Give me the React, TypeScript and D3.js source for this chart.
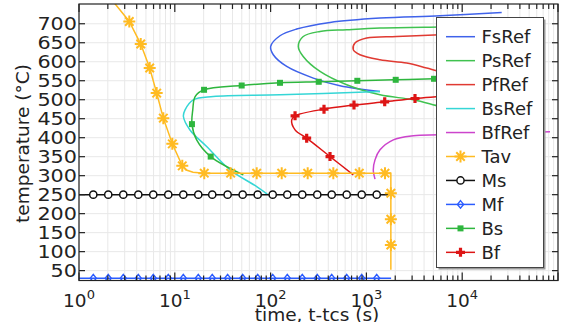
import React from 'react';
import * as d3 from 'd3';

// ---------- data (time s, temperature °C) ----------
const fsRef: [number, number][] = [
  [25840, 729.8], [5866, 721.1], [1387, 715], [417, 703.4], [187, 686], [125.3, 668.4],
  [100.2, 640.2], [106.7, 618.3], [147.3, 587.5], [279, 556.9], [530, 536.6], [1387, 521.6],
];
const psRef: [number, number][] = [
  [9480, 692.1], [5866, 691.3], [1387, 688.7], [623, 684.2], [328, 679.7], [219, 666.5],
  [194.5, 640.2], [219, 613.8], [328, 574.3], [623, 539.3], [1387, 512.9], [3090, 499.7],
  [5866, 482.1], [9480, 470.8],
];
const pfRef: [number, number][] = [
  [9480, 673.6], [5866, 671], [2070, 666.5], [1007, 662.3], [760, 649.1], [730, 631.5],
  [857, 618.3], [1387, 605.1], [2634, 596.4], [4256, 583.3], [5866, 574.3], [9480, 563],
];
const bsRef: [number, number][] = [
  [1387, 521.6], [125.3, 512.9], [25.2, 508.4], [15.6, 499.7], [12.8, 473.4], [12.3, 455.7],
  [14.4, 420.4], [21.5, 376.7], [37.7, 315.3], [71.6, 271.3], [92.4, 251.3],
];
const bfRef: [number, number][] = [
  [82500, 415.4], [5866, 407.5], [3090, 404.9], [1910, 394.3], [1387, 368], [1230, 341.6],
  [1180, 315.3], [1230, 290.8],
];
const tavLine: [number, number][] = [
  [2.2, 762], [2.375, 752.7], [3.35, 706], [4.41, 646.5], [5.47, 583.3], [6.47, 517.4],
  [7.59, 451.5], [9.42, 383.8], [11.97, 325.8], [13.2, 315], [15.5, 309], [20.3, 306.6],
  [1800, 306.6], [1800, 52],
];
const tavMarks: [number, number][] = [
  [3.35, 706], [4.41, 646.5], [5.47, 583.3], [6.47, 517.4], [7.59, 451.5], [9.42, 383.8],
  [11.97, 325.8], [20.3, 306.6], [38.3, 306.6], [71.6, 306.6], [130.6, 306.6], [243.9, 306.6],
  [451.5, 306.6], [843, 306.6], [1563, 306.6], [1800, 253.9], [1800, 185.4], [1800, 117.6],
];
const msValue = 250;
const mfValue = 30;
const msLineT = [1, 1800];
const mfLineT = [1, 1810];
const mMarkT = [1.41, 2.02, 2.9, 4.16, 5.96, 8.55, 12.27, 17.59, 24.6, 35.6, 51.1, 73.3,
  105.2, 149.4, 214.2, 307, 434.5, 622.8, 893.6, 1281];
const bsLine: [number, number][] = [
  [9480, 556.4], [5080, 555.1], [2023, 552.4], [804, 549.8], [318, 547.2], [125.3, 544.5],
  [49.9, 537.4], [20.2, 526.1], [16.3, 508.4], [15.4, 473.4], [15.1, 435.7], [16.9, 394.3],
  [23.7, 350.3], [51.9, 302.1],
];
const bsMarks: [number, number][] = [
  [5080, 555.1], [2023, 552.4], [804, 549.8], [318, 547.2], [125.3, 544.5], [49.9, 537.4],
  [20.2, 526.1], [15.1, 435.7], [23.7, 350.3],
];
const bfLine: [number, number][] = [
  [9480, 512.9], [5866, 508.4], [3216, 503.2], [1553, 494.5], [742, 485.8], [361, 475.2],
  [180, 457.5], [166, 447], [180, 420.7], [238, 398.8], [417, 350.3], [730, 302.1],
];
const bfMarks: [number, number][] = [
  [3216, 503.2], [1553, 494.5], [742, 485.8], [361, 475.2], [180, 457.5], [238, 398.8],
  [417, 350.3],
];
const yTicks = [50, 100, 150, 200, 250, 300, 350, 400, 450, 500, 550, 600, 650, 700];
const xMajor = [1, 10, 100, 1000, 10000, 100000];
const xExp = ['0', '1', '2', '3', '4', '5'];
const legendNames = ['FsRef', 'PsRef', 'PfRef', 'BsRef', 'BfRef', 'Tav', 'Ms', 'Mf', 'Bs', 'Bf'];

// ---------- styles ----------
const C = {
  fs: '#3f62ea', ps: '#40c250', pf: '#e03a32', bs: '#35d6d6', bf: '#cc44cc',
  tav: '#ffbb22', ms: '#111111', mf: '#2b5cff', bsM: '#2eb63e', bfM: '#dd1515',
};
const legendColors = [C.fs, C.ps, C.pf, C.bs, C.bf, C.tav, C.ms, C.mf, C.bsM, C.bfM];
const legendMarkers = ['', '', '', '', '', 'star', 'circle', 'diamond', 'square', 'plus'];

const FONT = 'DejaVu Sans, sans-serif';
const X0 = 79, X1 = 558, Y0 = 4, Y1 = 280.5;

const x = d3.scaleLog().domain([1, 100000]).range([X0, X1]);
const y = d3.scaleLinear().domain([24, 752]).range([Y1, Y0]);

const lineGen = d3.line<[number, number]>().x(d => x(d[0])).y(d => y(d[1]));
const smoothGen = d3.line<[number, number]>().x(d => x(d[0])).y(d => y(d[1])).curve(d3.curveCatmullRom.alpha(0.5));

function Marker({ type, cx, cy, color }: { type: string; cx: number; cy: number; color: string }) {
  if (type === 'star') {
    const r = 6;
    const arms = [0, 45, 90, 135].map(a => {
      const rad = (a * Math.PI) / 180;
      return `M${cx - r * Math.cos(rad)},${cy - r * Math.sin(rad)}L${cx + r * Math.cos(rad)},${cy + r * Math.sin(rad)}`;
    }).join('');
    return <path d={arms} stroke={color} strokeWidth={2} fill="none" />;
  }
  if (type === 'circle') return <circle cx={cx} cy={cy} r={3.6} fill="white" stroke={color} strokeWidth={1.5} />;
  if (type === 'diamond') {
    const r = 3.8;
    return <path d={`M${cx},${cy - r}L${cx + r * 0.8},${cy}L${cx},${cy + r}L${cx - r * 0.8},${cy}Z`} fill="none" stroke={color} strokeWidth={1.4} />;
  }
  if (type === 'square') return <rect x={cx - 3} y={cy - 3} width={6} height={6} fill={color} />;
  if (type === 'plus') {
    const r = 4.5;
    return <path d={`M${cx - r},${cy}L${cx + r},${cy}M${cx},${cy - r}L${cx},${cy + r}`} stroke={color} strokeWidth={3.2} fill="none" />;
  }
  return null;
}

export default function App() {
  const minor: number[] = [];
  for (let k = 0; k < 5; k++) for (let m = 2; m <= 9; m++) minor.push(m * Math.pow(10, k));
  const allX = [...xMajor, ...minor];

  const lx0 = 446, lx1 = 475, ltx = 481.5, ly0 = 36.7, ldy = 23.96;

  return (
    <svg width={564} height={322} style={{ position: 'absolute', left: 0, top: 0, background: 'white' }} fontFamily={FONT}>
      <defs>
        <clipPath id="plot"><rect x={X0} y={Y0} width={X1 - X0} height={Y1 - Y0} /></clipPath>
      </defs>
      <rect x={0} y={0} width={564} height={322} fill="white" />
      {/* grid */}
      <g stroke="#e8e8e8" strokeWidth={1}>
        {allX.map((v, i) => <line key={'gx' + i} x1={x(v)} x2={x(v)} y1={Y0} y2={Y1} />)}
        {yTicks.map((v, i) => <line key={'gy' + i} x1={X0} x2={X1} y1={y(v)} y2={y(v)} />)}
      </g>
      <g clipPath="url(#plot)" fill="none">
        <path d={smoothGen(fsRef) || ''} stroke={C.fs} strokeWidth={1.5} />
        <path d={smoothGen(psRef) || ''} stroke={C.ps} strokeWidth={1.5} />
        <path d={smoothGen(pfRef) || ''} stroke={C.pf} strokeWidth={1.5} />
        <path d={smoothGen(bsRef) || ''} stroke={C.bs} strokeWidth={1.5} />
        <path d={smoothGen(bfRef) || ''} stroke={C.bf} strokeWidth={1.5} />
        <path d={lineGen(msLineT.map(t => [t, msValue] as [number, number])) || ''} stroke={C.ms} strokeWidth={1.5} />
        <path d={lineGen(mfLineT.map(t => [t, mfValue] as [number, number])) || ''} stroke={C.mf} strokeWidth={1.5} />
        <path d={smoothGen(bsLine) || ''} stroke={C.bsM} strokeWidth={1.5} />
        <path d={smoothGen(bfLine) || ''} stroke={C.bfM} strokeWidth={1.5} />
        <path d={lineGen(tavLine) || ''} stroke={C.tav} strokeWidth={1.5} />
        {mMarkT.map((t, i) => <Marker key={'ms' + i} type="circle" cx={x(t)} cy={y(msValue)} color={C.ms} />)}
        {mMarkT.map((t, i) => <Marker key={'mf' + i} type="diamond" cx={x(t)} cy={y(mfValue)} color={C.mf} />)}
        {bsMarks.map((d, i) => <Marker key={'bs' + i} type="square" cx={x(d[0])} cy={y(d[1])} color={C.bsM} />)}
        {bfMarks.map((d, i) => <Marker key={'bf' + i} type="plus" cx={x(d[0])} cy={y(d[1])} color={C.bfM} />)}
        {tavMarks.map((d, i) => <Marker key={'tv' + i} type="star" cx={x(d[0])} cy={y(d[1])} color={C.tav} />)}
      </g>
      {/* frame & ticks */}
      <rect x={X0} y={Y0} width={X1 - X0} height={Y1 - Y0} fill="none" stroke="#222" strokeWidth={1.2} />
      <g stroke="#222" strokeWidth={1.2}>
        {allX.map((v, i) => {
          const len = xMajor.includes(v) ? 8 : 5;
          return (
            <g key={'tx' + i}>
              <line x1={x(v)} x2={x(v)} y1={Y1} y2={Y1 - len} />
              <line x1={x(v)} x2={x(v)} y1={Y0} y2={Y0 + len} />
            </g>
          );
        })}
        {yTicks.map((v, i) => (
          <g key={'ty' + i}>
            <line x1={X0} x2={X0 + 6} y1={y(v)} y2={y(v)} />
            <line x1={X1} x2={X1 - 6} y1={y(v)} y2={y(v)} />
          </g>
        ))}
      </g>
      {/* tick labels */}
      <g fill="#222">
        {yTicks.map((v, i) => (
          <text key={'yl' + i} transform={`translate(77,${y(v) + 6.2}) scale(1.22,1)`} textAnchor="end" fontSize={17}>{v}</text>
        ))}
        {xMajor.slice(0, 5).map((v, i) => (
          <text key={'xl' + i} x={x(v)} y={307} textAnchor="middle" fontSize={18.5}>
            10<tspan fontSize={13} dy={-8}>{xExp[i]}</tspan>
          </text>
        ))}
      </g>
      <text x={317} y={321} textAnchor="middle" fontSize={18.5} fill="#222">time, t-tcs (s)</text>
      <text transform="translate(29,143.5) rotate(-90)" textAnchor="middle" fontSize={18.5} fill="#222">temperature (°C)</text>
      {/* legend */}
      <rect x={438.5} y={19.5} width={107} height={250} fill="#9a9a9a" />
      <rect x={436.5} y={17.5} width={107} height={250} fill="white" stroke="#444" strokeWidth={1} />
      {legendNames.map((n, i) => {
        const ly = ly0 + i * ldy;
        return (
          <g key={'lg' + i}>
            <line x1={lx0} x2={lx1} y1={ly} y2={ly} stroke={legendColors[i]} strokeWidth={1.5} />
            <Marker type={legendMarkers[i]} cx={(lx0 + lx1) / 2} cy={ly} color={legendColors[i]} />
            <text x={ltx} y={ly + 6.5} fontSize={18} fill="#222">{n}</text>
          </g>
        );
      })}
    </svg>
  );
}
